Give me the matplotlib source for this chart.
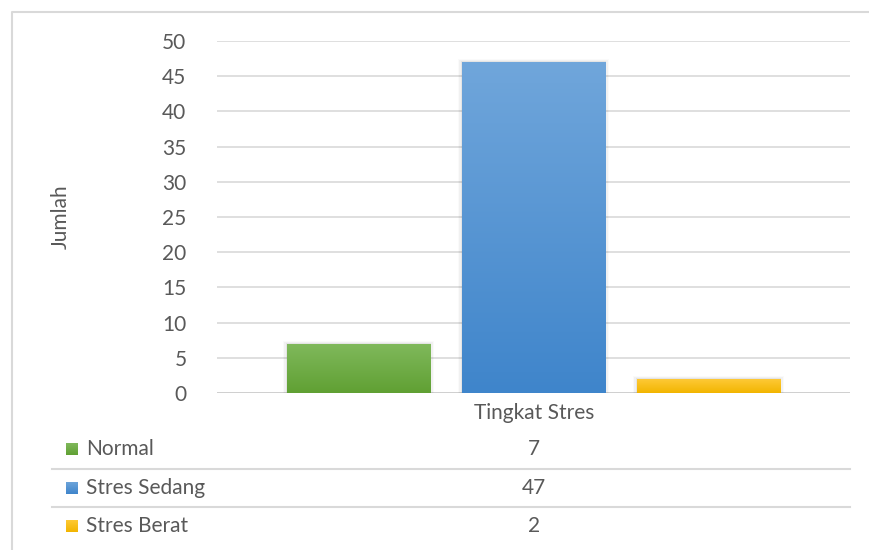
import matplotlib
matplotlib.use("Agg")
import matplotlib.pyplot as plt
import numpy as np
from matplotlib.patches import Rectangle
from matplotlib.lines import Line2D
from matplotlib.colors import LinearSegmentedColormap

category = "Tingkat Stres"
series_names = ["Normal", "Stres Sedang", "Stres Berat"]
values = [7, 47, 2]
top_colors = ["#80B95C", "#70A6DB", "#FFCB3A"]
bottom_colors = ["#60A033", "#3F85CB", "#F2B500"]
yticks = [0, 5, 10, 15, 20, 25, 30, 35, 40, 45, 50]

plt.rcParams['font.family'] = ['Lato', 'DejaVu Sans']
txt = "#595959"
grid = "#D9D9D9"
FS = 15

W, H = 870, 550
fig = plt.figure(figsize=(W/100, H/100), dpi=100)

def fx(px):
    return px / W

def fy(py):
    return 1 - py / H

ax = fig.add_axes([fx(217), fy(393), fx(850) - fx(217), fy(41) - fy(393)])
ax.set_xlim(-0.5, 0.5)
ax.set_ylim(0, 50)
ax.set_yticks(yticks)
ax.set_yticklabels([str(t) for t in yticks])
ax.tick_params(axis='y', length=0, pad=22, labelsize=FS, labelcolor=txt)
ax.set_xticks([])
for s in ax.spines.values():
    s.set_visible(False)
ax.grid(axis='y', color=grid, linewidth=1.2)
ax.set_axisbelow(True)
ax.axhline(0, color="#D0D0D0", linewidth=1.4, zorder=1)

width = 0.226
offsets = [-0.2765, 0.0, 0.2765]
grad = np.linspace(1, 0, 256).reshape(-1, 1)
for off, v, tc, bc in zip(offsets, values, top_colors, bottom_colors):
    # soft shadow
    for k, a in enumerate([0.05, 0.035, 0.02]):
        sh = Rectangle((off - width/2 - 0.002*(k+1), 0), width + 0.004*(k+1), v + 0.15*(k+1),
                       facecolor="black", alpha=a, edgecolor="none", zorder=2)
        ax.add_patch(sh)
    b = ax.bar(off, v, width=width, color=bc, edgecolor="none", zorder=3)[0]
    cmap = LinearSegmentedColormap.from_list("g", [bc, tc])
    im = ax.imshow(grad, cmap=cmap, aspect='auto',
                   extent=[off - width/2, off + width/2, 0, v], zorder=4, vmin=0, vmax=1)
    im.set_clip_path(b)
ax.set_xlim(-0.5, 0.5)
ax.set_ylim(0, 50)

fig.text(fx(61), fy(217), "Jumlah", rotation=90, ha='center', va='center',
         fontsize=FS, color=txt)
fig.text(fx(534), fy(413), category, ha='center', va='center', fontsize=FS, color=txt)

row_y = [449, 488, 526]
for yy in [469, 507]:
    fig.add_artist(Line2D([fx(52), fx(850)], [fy(yy), fy(yy)], color=grid, linewidth=1.5))
for yy, name, v, tc, bc in zip(row_y, series_names, values, top_colors, bottom_colors):
    cmap = LinearSegmentedColormap.from_list("g", [bc, tc])
    kax = fig.add_axes([fx(66), fy(yy + 6), fx(12), 12 / H])
    kax.imshow(grad, cmap=cmap, aspect='auto', extent=[0, 1, 0, 1], vmin=0, vmax=1)
    kax.axis('off')
    fig.text(fx(86), fy(yy), name, ha='left', va='center', fontsize=FS, color=txt)
    fig.text(fx(534), fy(yy), str(v), ha='center', va='center', fontsize=FS, color=txt)

# outer chart border
fig.add_artist(Line2D([fx(12), fx(12), fx(872)], [fy(552), fy(11.5), fy(11.5)],
                      color=grid, linewidth=1.5))

fig.savefig("out.png", dpi=100)
